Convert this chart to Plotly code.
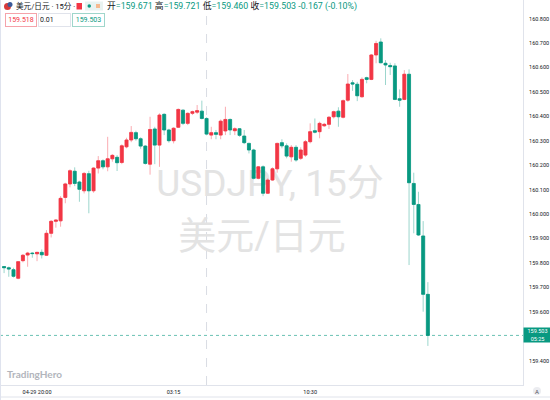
import pandas as pd
import plotly.graph_objects as go

# ---------------- data ----------------
times = pd.date_range("2024-04-29 18:15", periods=91, freq="15min")

opens = [159.785, 159.780, 159.772, 159.737, 159.809, 159.832, 159.840, 159.837, 159.843, 159.831,
         159.921, 159.970, 159.972, 160.068, 160.123, 160.175, 160.131, 160.095, 160.165, 160.095,
         160.188, 160.218, 160.193, 160.226, 160.232, 160.211, 160.275, 160.303, 160.333, 160.308,
         160.278, 160.204, 160.348, 160.282, 160.408, 160.344, 160.300, 160.355, 160.425, 160.371,
         160.412, 160.417, 160.421, 160.391, 160.323, 160.333, 160.323, 160.340, 160.387, 160.341,
         160.349, 160.319, 160.289, 160.262, 160.146, 160.193, 160.085, 160.139, 160.185, 160.292,
         160.279, 160.234, 160.273, 160.228, 160.241, 160.296, 160.341, 160.337, 160.361, 160.367,
         160.398, 160.421, 160.396, 160.466, 160.537, 160.531, 160.480, 160.558, 160.551, 160.651,
         160.704, 160.617, 160.608, 160.606, 160.472, 160.469, 160.572, 160.125, 160.039, 159.910,
         159.671]
highs = [159.787, 159.785, 159.780, 159.807, 159.836, 159.845, 159.843, 159.845, 159.855, 159.934,
         159.975, 159.978, 160.073, 160.128, 160.183, 160.191, 160.136, 160.172, 160.177, 160.191,
         160.237, 160.224, 160.316, 160.245, 160.241, 160.285, 160.312, 160.360, 160.341, 160.314,
         160.282, 160.398, 160.357, 160.412, 160.412, 160.349, 160.355, 160.432, 160.428, 160.416,
         160.423, 160.446, 160.464, 160.396, 160.357, 160.344, 160.387, 160.439, 160.391, 160.355,
         160.352, 160.344, 160.292, 160.267, 160.196, 160.199, 160.146, 160.191, 160.292, 160.306,
         160.289, 160.282, 160.282, 160.273, 160.303, 160.371, 160.391, 160.378, 160.373, 160.401,
         160.423, 160.437, 160.469, 160.573, 160.548, 160.541, 160.559, 160.562, 160.655, 160.709,
         160.719, 160.630, 160.619, 160.617, 160.510, 160.589, 160.592, 160.169, 160.091, 159.971,
         159.721]
lows = [159.758, 159.743, 159.740, 159.733, 159.802, 159.784, 159.821, 159.807, 159.818, 159.828,
        159.904, 159.944, 159.948, 160.044, 160.109, 160.114, 160.050, 160.084, 160.003, 160.087,
        160.166, 160.183, 160.175, 160.214, 160.176, 160.204, 160.269, 160.294, 160.300, 160.267,
        160.202, 160.161, 160.204, 160.193, 160.323, 160.292, 160.289, 160.352, 160.364, 160.364,
        160.405, 160.409, 160.387, 160.322, 160.306, 160.306, 160.306, 160.323, 160.323, 160.323,
        160.316, 160.286, 160.248, 160.142, 160.142, 160.073, 160.082, 160.136, 160.169, 160.269,
        160.228, 160.214, 160.214, 160.221, 160.234, 160.289, 160.330, 160.310, 160.357, 160.348,
        160.391, 160.357, 160.391, 160.459, 160.504, 160.462, 160.476, 160.535, 160.548, 160.617,
        160.617, 160.528, 160.569, 160.466, 160.439, 160.466, 159.791, 159.921, 159.910, 159.600,
        159.460]
closes = [159.780, 159.775, 159.745, 159.805, 159.831, 159.840, 159.838, 159.843, 159.833, 159.921,
          159.970, 159.975, 160.064, 160.123, 160.177, 160.125, 160.101, 160.166, 160.095, 160.188,
          160.218, 160.193, 160.226, 160.240, 160.210, 160.279, 160.303, 160.334, 160.308, 160.278,
          160.207, 160.346, 160.282, 160.405, 160.344, 160.300, 160.351, 160.428, 160.371, 160.412,
          160.419, 160.423, 160.391, 160.327, 160.333, 160.326, 160.380, 160.387, 160.344, 160.349,
          160.322, 160.292, 160.262, 160.146, 160.193, 160.085, 160.139, 160.185, 160.289, 160.279,
          160.237, 160.273, 160.221, 160.262, 160.296, 160.337, 160.335, 160.371, 160.367, 160.396,
          160.419, 160.398, 160.464, 160.532, 160.532, 160.484, 160.551, 160.551, 160.651, 160.698,
          160.619, 160.610, 160.603, 160.469, 160.466, 160.572, 160.128, 160.039, 159.914, 159.671,
          159.503]

# 159.500 is hidden behind the live-price tag in the reference
y_tick_values = [159.4, 159.6, 159.7, 159.8, 159.9, 160.0, 160.1, 160.2, 160.3,
                 160.4, 160.5, 160.6, 160.7, 160.8]
y_tick_labels = ["159.400", "159.600", "159.700", "159.800", "159.900", "160.000",
                 "160.100", "160.200", "160.300", "160.400", "160.500", "160.600", "160.700",
                 "160.800"]
x_tick_values = ["2024-04-29 20:00", "2024-04-30 03:15", "2024-04-30 10:30"]
x_tick_labels = ["04-29 20:00", "03:15", "10:30"]
session_break = "2024-04-30 05:00"

symbol_title = "美元/日元 · 15分 ·"
ask_price, spread, bid_price = "159.518", "0.01", "159.503"
change_text = "-0.167 (-0.10%)"
countdown = "05:25"
watermark_1 = "USDJPY, 15分"
watermark_2 = "美元/日元"
brand = "TradingHero"

# ---------------- style ----------------
RED = "#f23645"
GREEN = "#089981"
RED_WICK = "rgba(242,54,69,0.42)"
GREEN_WICK = "rgba(8,153,129,0.40)"
DARK = "#131722"
GRID = "#e0e3eb"
FONT = "Roboto, 'Noto Sans CJK SC', sans-serif"

W, H = 550, 400
ML, MR, MT, MB = 0, 27, 0, 15
PW, PH = W - ML - MR, H - MT - MB


def px(x):
    return (x - ML) / PW


def py(y):
    return 1 - (y - MT) / PH


body_hi = [max(o, c) for o, c in zip(opens, closes)]
body_lo = [min(o, c) for o, c in zip(opens, closes)]

fig = go.Figure()
fig.add_trace(go.Candlestick(
    x=times, open=opens, high=highs, low=lows, close=closes,
    increasing=dict(line=dict(color=RED_WICK, width=1), fillcolor=RED_WICK),
    decreasing=dict(line=dict(color=GREEN_WICK, width=1), fillcolor=GREEN_WICK),
    whiskerwidth=0, hoverinfo="skip", showlegend=False,
))
fig.add_trace(go.Candlestick(
    x=times, open=opens, high=body_hi, low=body_lo, close=closes,
    increasing=dict(line=dict(color=RED, width=0.6), fillcolor=RED),
    decreasing=dict(line=dict(color=GREEN, width=0.6), fillcolor=GREEN),
    whiskerwidth=0, showlegend=False,
))

last_close = closes[-1]

shapes = [
    dict(type="line", xref="x", yref="paper", x0=session_break, x1=session_break, y0=0, y1=1,
         line=dict(color="#d9dce3", width=1, dash="dash"), layer="below"),
    dict(type="line", xref="paper", yref="y", x0=0, x1=1, y0=last_close, y1=last_close,
         line=dict(color="rgba(8,153,129,0.6)", width=1, dash="dot")),
    dict(type="line", xref="paper", yref="paper", x0=0, x1=px(W), y0=py(397), y1=py(397),
         line=dict(color=GRID, width=1)),
    dict(type="line", xref="paper", yref="paper", x0=px(0.5), x1=px(0.5), y0=py(H), y1=py(0),
         line=dict(color="#dfe3ee", width=1)),
    dict(type="rect", xref="paper", yref="paper", x0=px(170), x1=px(370), y0=py(200), y1=py(160),
         line=dict(width=0), layer="below",
         label=dict(text=watermark_1, font=dict(size=37, color="#e3e3e3", family=FONT),
                    textposition="middle center")),
    dict(type="rect", xref="paper", yref="paper", x0=px(162), x1=px(362), y0=py(253), y1=py(213),
         line=dict(width=0), layer="below",
         label=dict(text=watermark_2, font=dict(size=38, color="#e3e3e3", family=FONT),
                    textposition="middle center")),
    dict(type="circle", xref="paper", yref="paper", x0=px(4), x1=px(11), y0=py(10), y1=py(3),
         fillcolor="#d93a3a", line=dict(width=0)),
    dict(type="circle", xref="paper", yref="paper", x0=px(7.5), x1=px(12.5), y0=py(7), y1=py(2),
         fillcolor="#3b5998", line=dict(width=0)),
    dict(type="rect", xref="paper", yref="paper", x0=px(76.5), x1=px(82), y0=py(9.5), y1=py(3),
         fillcolor=RED, line=dict(width=0)),
    dict(type="rect", xref="paper", yref="paper", x0=px(85), x1=px(103), y0=py(10.5), y1=py(1.5),
         fillcolor="#e9f3f1", line=dict(width=0)),
    dict(type="circle", xref="paper", yref="paper", x0=px(87.5), x1=px(91), y0=py(7.8), y1=py(4.3),
         fillcolor=GREEN, line=dict(width=0)),
    dict(type="rect", xref="paper", yref="paper", x0=px(96), x1=px(100), y0=py(8), y1=py(4),
         fillcolor="#f6b98f", line=dict(width=0)),
    dict(type="circle", xref="paper", yref="paper", x0=px(533), x1=px(541), y0=py(395), y1=py(387),
         fillcolor="#ebecf0", line=dict(width=0)),
]

ohlc_text = (
    f"<span style='color:{DARK}'>开</span>={opens[-1]:.3f} "
    f"<span style='color:{DARK}'>高</span>={highs[-1]:.3f} "
    f"<span style='color:{DARK}'>低</span>={lows[-1]:.3f} "
    f"<span style='color:{DARK}'>收</span>={closes[-1]:.3f} {change_text}"
)

annotations = [
    dict(text=symbol_title, xref="paper", yref="paper", x=px(13.5), y=py(6.5), xanchor="left",
         yanchor="middle", showarrow=False, font=dict(size=7.6, color=DARK, family=FONT)),
    dict(text=ohlc_text, xref="paper", yref="paper", x=px(105), y=py(6.5), xanchor="left",
         yanchor="middle", showarrow=False, font=dict(size=8.8, color=GREEN, family=FONT)),
    dict(text=ask_price, xref="paper", yref="paper", x=px(21), y=py(20), xanchor="center",
         yanchor="middle", showarrow=False, width=28, height=10, borderpad=1,
         bordercolor="#f5a3aa", borderwidth=1, bgcolor="white",
         font=dict(size=7, color=RED, family=FONT)),
    dict(text=spread, xref="paper", yref="paper", x=px(54.5), y=py(20), xanchor="center",
         yanchor="middle", showarrow=False, width=29, height=10, borderpad=1, align="left",
         bordercolor="#e0e3eb", borderwidth=1, bgcolor="white",
         font=dict(size=7, color=DARK, family=FONT)),
    dict(text=bid_price, xref="paper", yref="paper", x=px(88.5), y=py(20), xanchor="center",
         yanchor="middle", showarrow=False, width=29, height=10, borderpad=1,
         bordercolor="#9fd6cb", borderwidth=1, bgcolor="white",
         font=dict(size=7, color=GREEN, family=FONT)),
    dict(text=f"<b>{brand}</b>", xref="paper", yref="paper", x=px(5), y=py(373.5),
         xanchor="left", yanchor="middle", showarrow=False,
         font=dict(size=10, color="#b2b5bc", family="Lato, 'Noto Sans', sans-serif")),
    dict(text=f"{last_close:.3f}<br>{countdown}", xref="paper", yref="y", x=1, y=last_close,
         xanchor="left", yanchor="middle", showarrow=False, width=25, height=12, borderpad=1,
         bgcolor=GREEN, font=dict(size=5.5, color="white", family=FONT)),
    dict(text="A", xref="paper", yref="paper", x=px(537), y=py(391), xanchor="center",
         yanchor="middle", showarrow=False, font=dict(size=6, color="#50535e", family=FONT)),
]

fig.update_layout(
    width=W, height=H,
    margin=dict(l=ML, r=MR, t=MT, b=MB),
    paper_bgcolor="white", plot_bgcolor="white",
    boxgap=0.2, boxgroupgap=0.2,
    showlegend=False,
    shapes=shapes, annotations=annotations,
    font=dict(family=FONT, color=DARK),
    xaxis=dict(
        type="date", range=["2024-04-29 18:02", "2024-04-30 21:48"],
        rangeslider=dict(visible=False),
        tickmode="array", tickvals=x_tick_values, ticktext=x_tick_labels,
        tickfont=dict(size=5.5, color=DARK, family=FONT),
        ticks="outside", ticklen=1, tickcolor="rgba(0,0,0,0)",
        showgrid=False, zeroline=False,
        showline=True, linecolor=GRID, linewidth=1,
        fixedrange=True,
    ),
    yaxis=dict(
        side="right", range=[159.300, 160.876],
        tickmode="array", tickvals=y_tick_values, ticktext=y_tick_labels,
        tickfont=dict(size=5.5, color=DARK, family=FONT),
        ticks="outside", ticklen=4, tickcolor="rgba(0,0,0,0)",
        showgrid=False, zeroline=False,
        showline=True, linecolor=GRID, linewidth=1,
        fixedrange=True,
    ),
)

fig.write_html(
    "out.html",
    config={"displayModeBar": False},
    post_script="document.body.style.margin='0';document.body.style.padding='0';",
)
